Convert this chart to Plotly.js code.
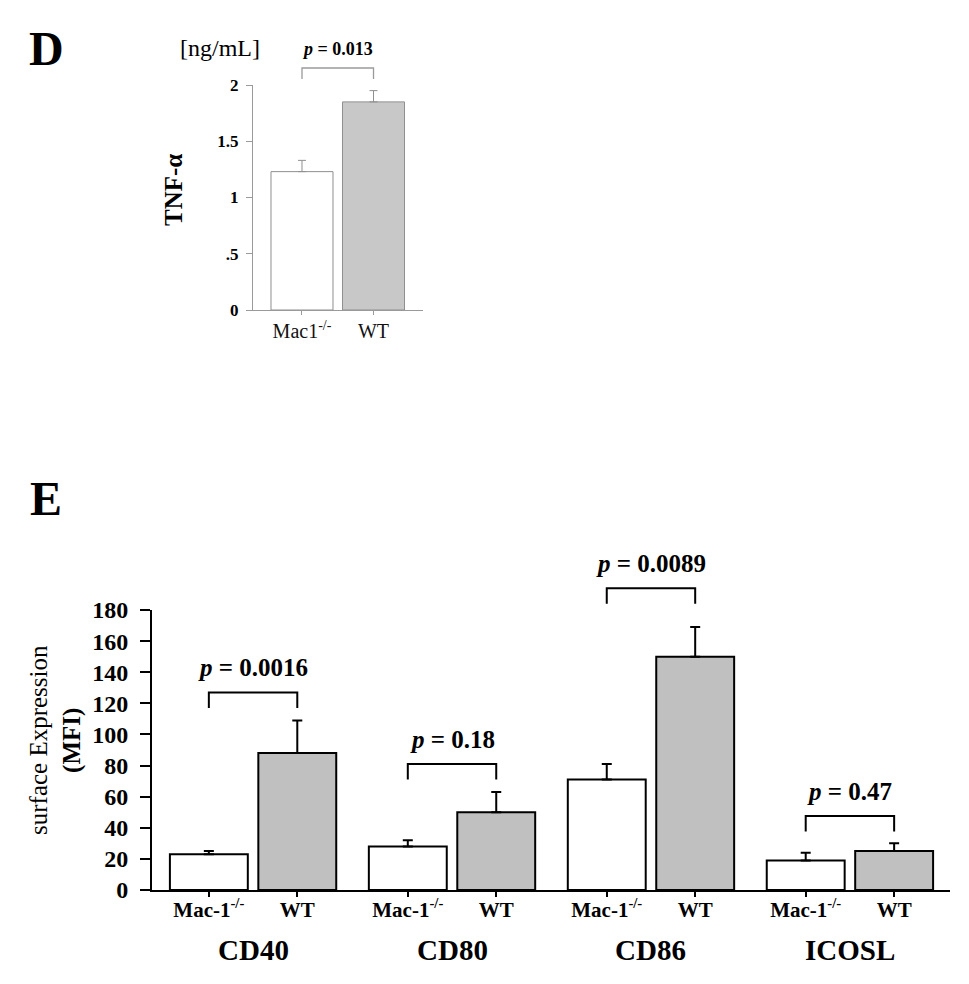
<!DOCTYPE html>
<html>
<head>
<meta charset="utf-8">
<script src="https://cdn.plot.ly/plotly-3.0.1.min.js"></script>
<style>html,body{margin:0;padding:0;background:#fff;}#chart{width:969px;height:984px;}</style>
</head>
<body>
<div id="chart"></div>
<script>
// ---------- Data ----------
// Panel D
const catD = ["Mac1<sup>-/-</sup>", "WT"];
const valD = [1.23, 1.85];
const errD = [0.10, 0.10];
const pD = "0.013";
const tickValsDY = [0, 0.5, 1, 1.5, 2];
const tickTextDY = ["0", ".5", "1", "1.5", "2"];

// Panel E
const groupsE = ["CD40", "CD80", "CD86", "ICOSL"];
const seriesNames = ["Mac-1<sup>-/-</sup>", "WT"];
const macE = [23, 28, 71, 19];
const macErrE = [2, 4, 10, 5];
const wtE = [88, 50, 150, 25];
const wtErrE = [21, 13, 19, 5];
const pE = ["0.0016", "0.18", "0.0089", "0.47"];
const tickValsEY = [0, 20, 40, 60, 80, 100, 120, 140, 160, 180];

// ---------- Layout helpers ----------
const W = 969, H = 984;
const px = v => v / W;
const py = v => 1 - v / H;
const FONT = "Liberation Serif, Times New Roman, serif";

const bargap = 0.111, bargroupgap = 0.119;
const slotOff = (1 - bargap) / 4;     // offset of each bar centre from group centre
const rangeXD = [-0.685, 1.692], rangeYD = [0, 2];
const rangeXE = [-0.508, 3.503], rangeYE = [0, 180];
const dom = (v, r) => (v - r[0]) / (r[1] - r[0]);

const bracketE = [127, 81, 194, 47.6]; // bracket heights (annotation placement)
const dropE = 10;
const bracketD = 2.151, dropD = 0.098;

const gIdx = groupsE.map((_, i) => i);

const shapes = [];
// Panel D bracket
shapes.push({
  type: "path", xref: "x domain", yref: "y domain",
  path: "M" + dom(0, rangeXD) + "," + dom(bracketD - dropD, rangeYD) +
        " L" + dom(0, rangeXD) + "," + dom(bracketD, rangeYD) +
        " L" + dom(1, rangeXD) + "," + dom(bracketD, rangeYD) +
        " L" + dom(1, rangeXD) + "," + dom(bracketD - dropD, rangeYD),
  line: { color: "#9a9a9a", width: 1.3 }
});
// Panel E brackets
gIdx.forEach(i => {
  const t = bracketE[i];
  const xl = dom(i - slotOff, rangeXE), xr = dom(i + slotOff, rangeXE);
  const yt = dom(t, rangeYE), yb = dom(t - dropE, rangeYE);
  shapes.push({
    type: "path", xref: "x2 domain", yref: "y2 domain",
    path: "M" + xl + "," + yb + " L" + xl + "," + yt + " L" + xr + "," + yt + " L" + xr + "," + yb,
    line: { color: "#000", width: 2 }
  });
});

const traces = [
  {
    type: "bar", x: catD, y: valD, xaxis: "x", yaxis: "y",
    width: 0.867,
    marker: { color: ["#ffffff", "#c8c8c8"], line: { color: "#8f8f8f", width: 1 } },
    error_y: { type: "data", symmetric: false, array: errD, arrayminus: errD.map(() => 0),
               color: "#8f8f8f", thickness: 1, width: 4 },
    showlegend: false
  },
  {
    type: "bar", name: seriesNames[0], x: gIdx, y: macE, xaxis: "x2", yaxis: "y2",
    marker: { color: "#ffffff", line: { color: "#000", width: 2 } },
    error_y: { type: "data", symmetric: false, array: macErrE, arrayminus: macErrE.map(() => 0),
               color: "#000", thickness: 2, width: 5 },
    showlegend: false
  },
  {
    type: "bar", name: seriesNames[1], x: gIdx, y: wtE, xaxis: "x2", yaxis: "y2",
    marker: { color: "#c0c0c0", line: { color: "#000", width: 2 } },
    error_y: { type: "data", symmetric: false, array: wtErrE, arrayminus: wtErrE.map(() => 0),
               color: "#000", thickness: 2, width: 5 },
    showlegend: false
  }
];

const tickValsEX = [], tickTextEX = [];
gIdx.forEach(i => {
  tickValsEX.push(i - slotOff, i + slotOff);
  tickTextEX.push(seriesNames[0], seriesNames[1]);
});

const annotations = [
  { text: "<b>D</b>", xref: "paper", yref: "paper", x: px(46), y: py(48), xanchor: "center", yanchor: "middle",
    showarrow: false, font: { family: FONT, size: 48, color: "#000" } },
  { text: "<b>E</b>", xref: "paper", yref: "paper", x: px(46), y: py(498), xanchor: "center", yanchor: "middle",
    showarrow: false, font: { family: FONT, size: 48, color: "#000" } },
  { text: "[ng/mL]", xref: "paper", yref: "paper", x: px(220), y: py(48), xanchor: "center", yanchor: "middle",
    showarrow: false, font: { family: FONT, size: 24, color: "#000" } },
  { text: "<b><i>p</i> = " + pD + "</b>", xref: "x", yref: "paper", x: 0.5, y: py(49), xanchor: "center", yanchor: "middle",
    showarrow: false, font: { family: FONT, size: 18, color: "#000" } },
  { text: "<b>TNF-α</b>", xref: "paper", yref: "paper", x: px(173), y: py(190), xanchor: "center", yanchor: "middle",
    textangle: -90, showarrow: false, font: { family: FONT, size: 25, color: "#000" } },
  { text: "surface Expression<br><b>(MFI)</b>", xref: "paper", yref: "paper", x: px(55), y: py(740),
    xanchor: "center", yanchor: "middle", textangle: -90, showarrow: false,
    font: { family: FONT, size: 25, color: "#000" } }
];
gIdx.forEach(i => {
  annotations.push({
    text: "<b>" + groupsE[i] + "</b>", xref: "x2", yref: "paper", x: i, y: py(950),
    xanchor: "center", yanchor: "middle", showarrow: false,
    font: { family: FONT, size: 29, color: "#000" }
  });
  annotations.push({
    text: "<b><i>p</i> = " + pE[i] + "</b>", xref: "x2", yref: "y2 domain", x: i, y: dom(bracketE[i], rangeYE),
    xanchor: "center", yanchor: "bottom", yshift: 9, showarrow: false,
    font: { family: FONT, size: 25, color: "#000" }
  });
});

const layout = {
  width: W, height: H,
  margin: { l: 0, r: 0, t: 0, b: 0 },
  paper_bgcolor: "#fff", plot_bgcolor: "rgba(0,0,0,0)",
  font: { family: FONT, color: "#000" },
  barmode: "group", bargap: bargap, bargroupgap: bargroupgap,
  showlegend: false,
  xaxis: {
    domain: [px(253), px(423)], anchor: "y", type: "category",
    range: rangeXD, showgrid: false, zeroline: false,
    showline: true, linecolor: "#9a9a9a", linewidth: 1.2,
    ticks: "outside", ticklen: 4, tickcolor: "#9a9a9a", tickwidth: 1,
    tickfont: { family: FONT, size: 20, color: "#111" }, ticklabelstandoff: -1
  },
  yaxis: {
    domain: [py(310), py(85)], anchor: "x",
    range: rangeYD, showgrid: false, zeroline: false,
    showline: true, linecolor: "#9a9a9a", linewidth: 1.2,
    ticks: "outside", ticklen: 6, tickcolor: "#9a9a9a", tickwidth: 1,
    tickmode: "array", tickvals: tickValsDY, ticktext: tickTextDY,
    tickfont: { family: FONT, size: 17, color: "#000", weight: 700 }, ticklabelstandoff: 4
  },
  xaxis2: {
    domain: [px(152), px(950)], anchor: "y2", type: "linear",
    range: rangeXE, showgrid: false, zeroline: false,
    showline: true, linecolor: "#000", linewidth: 2,
    ticks: "outside", ticklen: 5, tickcolor: "#000", tickwidth: 2,
    tickmode: "array", tickvals: tickValsEX, ticktext: tickTextEX,
    tickfont: { family: FONT, size: 21, color: "#000", weight: 700 }, ticklabelstandoff: -5
  },
  yaxis2: {
    domain: [py(890), py(610)], anchor: "x2",
    range: rangeYE, showgrid: false, zeroline: false,
    showline: true, linecolor: "#000", linewidth: 2,
    ticks: "outside", ticklen: 10, tickcolor: "#000", tickwidth: 2,
    tickmode: "array", tickvals: tickValsEY,
    tickfont: { family: FONT, size: 24, color: "#000", weight: 700 }, ticklabelstandoff: 7
  },
  shapes: shapes,
  annotations: annotations
};

Plotly.newPlot("chart", traces, layout, { staticPlot: true, displayModeBar: false });
</script>
</body>
</html>
